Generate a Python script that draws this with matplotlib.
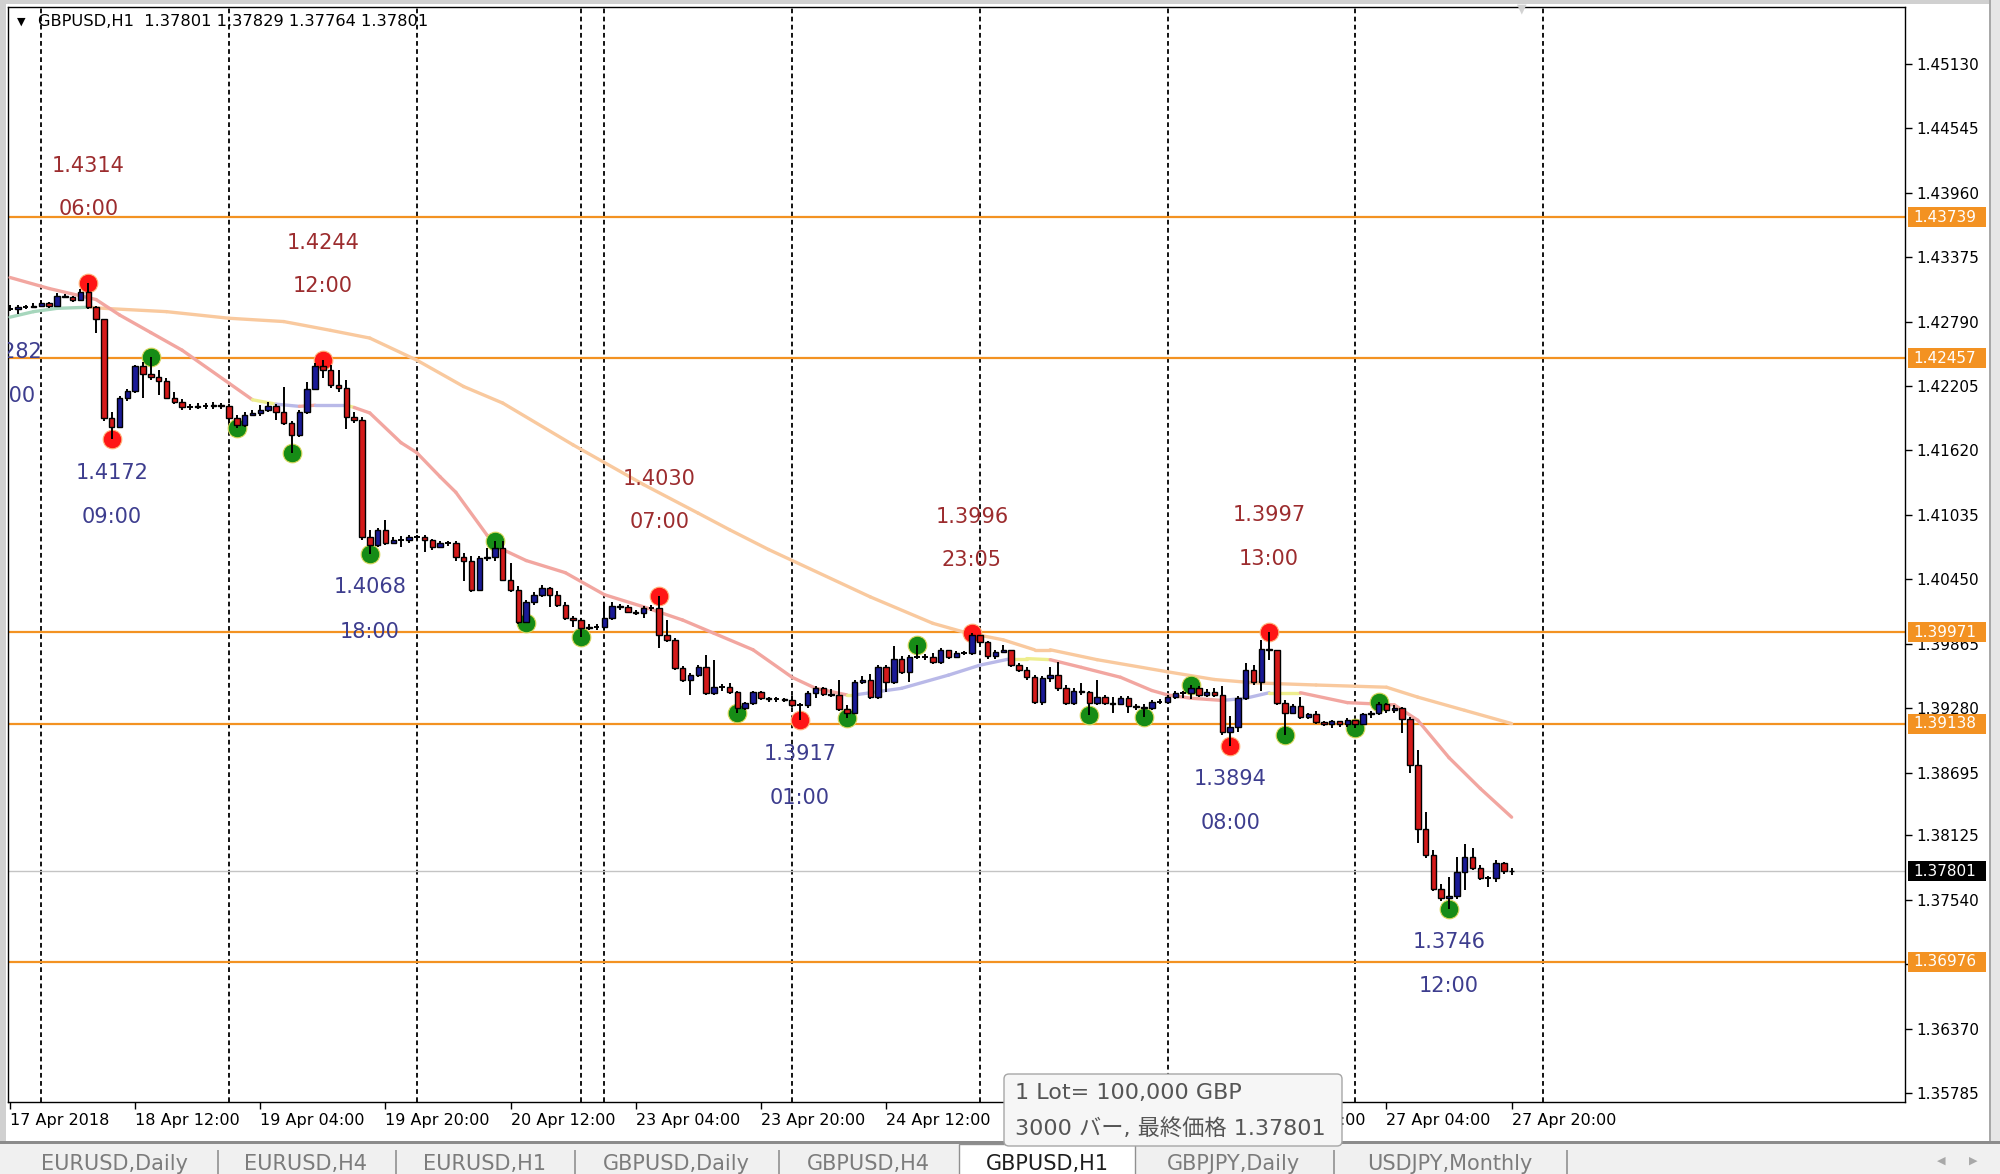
import numpy as np
import matplotlib.pyplot as plt
from matplotlib.collections import LineCollection
from matplotlib.patches import Rectangle, FancyBboxPatch
from matplotlib.transforms import offset_copy

plt.rcParams['font.family'] = ['DejaVu Sans', 'Noto Sans CJK JP']

header = "GBPUSD,H1  1.37801 1.37829 1.37764 1.37801"

# GBPUSD H1 bars, 17 Apr 2018 20:00 .. 27 Apr 2018 20:00 (x = bar number)
first_open = 1.4290
closes = [
    1.4290, 1.4292, 1.4292, 1.4293, 1.4296, 1.4293, 1.4302, 1.4301, 1.4299, 1.4306,
    1.4292, 1.4281, 1.4191, 1.4183, 1.4210, 1.4216, 1.4239, 1.4231, 1.4229, 1.4225,
    1.4210, 1.4206, 1.4201, 1.4201, 1.4202, 1.4202, 1.4203, 1.4202, 1.4191, 1.4185,
    1.4194, 1.4196, 1.4199, 1.4202, 1.4197, 1.4187, 1.4176, 1.4197, 1.4218, 1.4239,
    1.4235, 1.4221, 1.4219, 1.4192, 1.4190, 1.4083, 1.4076, 1.4090, 1.4078, 1.4081,
    1.4081, 1.4083, 1.4083, 1.4081, 1.4074, 1.4078, 1.4078, 1.4065, 1.4062, 1.4035,
    1.4064, 1.4065, 1.4073, 1.4044, 1.4035, 1.4006, 1.4024, 1.4031, 1.4037, 1.4031,
    1.4022, 1.4010, 1.4008, 1.4001, 1.4002, 1.4002, 1.4010, 1.4021, 1.4020, 1.4015,
    1.4014, 1.4019, 1.4019, 1.3994, 1.3990, 1.3964, 1.3954, 1.3958, 1.3965, 1.3942,
    1.3947, 1.3947, 1.3943, 1.3928, 1.3933, 1.3943, 1.3937, 1.3936, 1.3936, 1.3935,
    1.3931, 1.3931, 1.3942, 1.3946, 1.3941, 1.3940, 1.3927, 1.3924, 1.3952, 1.3954,
    1.3938, 1.3965, 1.3952, 1.3973, 1.3961, 1.3974, 1.3974, 1.3974, 1.3970, 1.3981,
    1.3974, 1.3978, 1.3978, 1.3994, 1.3988, 1.3975, 1.3979, 1.3981, 1.3967, 1.3963,
    1.3956, 1.3934, 1.3955, 1.3958, 1.3946, 1.3933, 1.3944, 1.3943, 1.3933, 1.3938,
    1.3933, 1.3932, 1.3937, 1.3930, 1.3929, 1.3928, 1.3934, 1.3934, 1.3938, 1.3942,
    1.3942, 1.3946, 1.3940, 1.3943, 1.3940, 1.3906, 1.3911, 1.3937, 1.3963, 1.3952,
    1.3982, 1.3981, 1.3933, 1.3924, 1.3930, 1.3920, 1.3923, 1.3915, 1.3914, 1.3916,
    1.3914, 1.3917, 1.3914, 1.3923, 1.3924, 1.3932, 1.3926, 1.3928, 1.3918, 1.3876,
    1.3818, 1.3795, 1.3764, 1.3756, 1.3757, 1.3779, 1.3793, 1.3783, 1.3774, 1.3774,
    1.3787, 1.3780, 1.37801]
highs = [
    1.4294, 1.4294, 1.4294, 1.4296, 1.4299, 1.4297, 1.4305, 1.4304, 1.4302, 1.4309,
    1.4314, 1.4293, 1.4281, 1.4197, 1.4211, 1.4218, 1.4240, 1.4242, 1.4247, 1.4235,
    1.4228, 1.4215, 1.4209, 1.4204, 1.4205, 1.4205, 1.4206, 1.4205, 1.4204, 1.4194,
    1.4197, 1.4199, 1.4203, 1.4206, 1.4204, 1.4220, 1.4189, 1.4199, 1.4224, 1.4241,
    1.4244, 1.4240, 1.4235, 1.4226, 1.4197, 1.4192, 1.4090, 1.4092, 1.4099, 1.4083,
    1.4084, 1.4085, 1.4085, 1.4085, 1.4082, 1.4080, 1.4080, 1.4080, 1.4069, 1.4066,
    1.4066, 1.4073, 1.4080, 1.4080, 1.4060, 1.4039, 1.4026, 1.4033, 1.4040, 1.4038,
    1.4034, 1.4024, 1.4012, 1.4010, 1.4004, 1.4004, 1.4024, 1.4024, 1.4023, 1.4022,
    1.4017, 1.4021, 1.4022, 1.4030, 1.4008, 1.3992, 1.3966, 1.3960, 1.3967, 1.3976,
    1.3972, 1.3950, 1.3951, 1.3944, 1.3934, 1.3944, 1.3944, 1.3938, 1.3938, 1.3937,
    1.3939, 1.3933, 1.3944, 1.3948, 1.3947, 1.3945, 1.3954, 1.3931, 1.3954, 1.3957,
    1.3959, 1.3967, 1.3967, 1.3984, 1.3975, 1.3976, 1.3985, 1.3977, 1.3978, 1.3983,
    1.3981, 1.3980, 1.3980, 1.3996, 1.3994, 1.3989, 1.3981, 1.3985, 1.3981, 1.3969,
    1.3965, 1.3958, 1.3957, 1.3965, 1.3970, 1.3949, 1.3946, 1.3951, 1.3944, 1.3954,
    1.3940, 1.3938, 1.3939, 1.3939, 1.3932, 1.3932, 1.3935, 1.3936, 1.3940, 1.3944,
    1.3944, 1.3949, 1.3948, 1.3945, 1.3946, 1.3948, 1.3921, 1.3939, 1.3969, 1.3967,
    1.3990, 1.3997, 1.3981, 1.3935, 1.3932, 1.3938, 1.3924, 1.3925, 1.3916, 1.3917,
    1.3916, 1.3919, 1.3917, 1.3924, 1.3925, 1.3934, 1.3933, 1.3931, 1.3929, 1.3920,
    1.3890, 1.3834, 1.3799, 1.3768, 1.3775, 1.3793, 1.3805, 1.3801, 1.3786, 1.3776,
    1.3790, 1.3788, 1.37829]
lows = [
    1.4289, 1.4286, 1.4290, 1.4291, 1.4294, 1.4291, 1.4292, 1.4300, 1.4297, 1.4298,
    1.4290, 1.4269, 1.4189, 1.4172, 1.4182, 1.4207, 1.4214, 1.4210, 1.4226, 1.4212,
    1.4209, 1.4204, 1.4199, 1.4199, 1.4200, 1.4200, 1.4200, 1.4200, 1.4187, 1.4182,
    1.4183, 1.4193, 1.4193, 1.4197, 1.4190, 1.4185, 1.4160, 1.4174, 1.4195, 1.4217,
    1.4228, 1.4219, 1.4215, 1.4181, 1.4187, 1.4081, 1.4068, 1.4074, 1.4076, 1.4078,
    1.4074, 1.4078, 1.4081, 1.4070, 1.4072, 1.4075, 1.4075, 1.4062, 1.4043, 1.4033,
    1.4035, 1.4062, 1.4062, 1.4043, 1.4033, 1.4004, 1.4005, 1.4022, 1.4029, 1.4020,
    1.4020, 1.4008, 1.4002, 1.3993, 1.3999, 1.3999, 1.3999, 1.4008, 1.4017, 1.4014,
    1.4013, 1.4010, 1.4016, 1.3983, 1.3988, 1.3963, 1.3952, 1.3940, 1.3956, 1.3940,
    1.3940, 1.3944, 1.3941, 1.3924, 1.3926, 1.3931, 1.3935, 1.3934, 1.3934, 1.3934,
    1.3929, 1.3917, 1.3928, 1.3937, 1.3939, 1.3938, 1.3925, 1.3919, 1.3925, 1.3950,
    1.3936, 1.3936, 1.3943, 1.3950, 1.3959, 1.3952, 1.3973, 1.3972, 1.3968, 1.3968,
    1.3973, 1.3976, 1.3976, 1.3976, 1.3985, 1.3973, 1.3973, 1.3978, 1.3965, 1.3961,
    1.3954, 1.3932, 1.3931, 1.3952, 1.3944, 1.3931, 1.3931, 1.3940, 1.3922, 1.3931,
    1.3931, 1.3924, 1.3931, 1.3924, 1.3926, 1.3920, 1.3926, 1.3932, 1.3932, 1.3936,
    1.3937, 1.3936, 1.3938, 1.3938, 1.3938, 1.3904, 1.3894, 1.3906, 1.3935, 1.3949,
    1.3944, 1.3972, 1.3931, 1.3904, 1.3923, 1.3918, 1.3918, 1.3914, 1.3912, 1.3910,
    1.3911, 1.3911, 1.3910, 1.3913, 1.3919, 1.3922, 1.3924, 1.3924, 1.3905, 1.3869,
    1.3806, 1.3792, 1.3762, 1.3753, 1.3746, 1.3755, 1.3763, 1.3781, 1.3772, 1.3766,
    1.3770, 1.3777, 1.37764]

tick_bars = [0, 16, 32, 48, 64, 80, 96, 112, 128, 144, 160, 176, 192]
tick_texts = ["17 Apr 2018", "18 Apr 12:00", "19 Apr 04:00", "19 Apr 20:00", "20 Apr 12:00",
              "23 Apr 04:00", "23 Apr 20:00", "24 Apr 12:00", "25 Apr 04:00", "25 Apr 20:00",
              "26 Apr 12:00", "27 Apr 04:00", "27 Apr 20:00"]
day_breaks = [4, 28, 52, 73, 76, 100, 124, 148, 172, 196]

price_ticks = [1.45130, 1.44545, 1.43960, 1.43375, 1.42790, 1.42205, 1.41620, 1.41035, 1.40450,
               1.39865, 1.39280, 1.38695, 1.38125, 1.37540, 1.36955, 1.36370, 1.35785]
levels = [1.43739, 1.42457, 1.39971, 1.39138, 1.36976]
last_price = 1.37801

# moving averages: vertex bars, values, colour code per segment
slow_bars = [0, 3, 6, 10, 12, 20, 28, 35, 41, 46, 52, 58, 63, 72, 81, 88, 92, 97, 110, 118, 122,
             127, 131, 133, 139, 148, 154, 159, 167, 176, 180, 186, 192]
slow_vals = [1.4283, 1.4288, 1.4291, 1.4292, 1.4291, 1.4288, 1.4282, 1.4279, 1.4271, 1.4264, 1.4244,
             1.4220, 1.4205, 1.4167, 1.4131, 1.4105, 1.4090, 1.4072, 1.4029, 1.4005, 1.3997, 1.3990,
             1.3981, 1.3981, 1.3972, 1.3961, 1.3954, 1.3951, 1.3949, 1.3947, 1.3938, 1.3926, 1.3914]
slow_cols = "GGG" + "P" * 29
fast_bars = [0, 5, 11, 14, 18, 22, 28, 31, 34, 37, 39, 43, 44, 46, 50, 52, 55, 57, 61, 63, 66, 71,
             76, 81, 86, 90, 95, 100, 103, 107, 108, 114, 120, 124, 128, 130, 133, 137, 142, 146,
             148, 151, 155, 158, 161, 165, 171, 177, 180, 184, 188, 192]
fast_vals = [1.4319, 1.4309, 1.4299, 1.4285, 1.4269, 1.4253, 1.4223, 1.4208, 1.4204, 1.4202, 1.4203,
             1.4203, 1.4201, 1.4196, 1.4169, 1.4160, 1.4138, 1.4124, 1.4085, 1.4072, 1.4062, 1.4051,
             1.4031, 1.4020, 1.4008, 1.3996, 1.3981, 1.3956, 1.3946, 1.3940, 1.3940, 1.3946, 1.3958,
             1.3967, 1.3973, 1.3973, 1.3972, 1.3965, 1.3956, 1.3944, 1.3940, 1.3937, 1.3935, 1.3937,
             1.3942, 1.3942, 1.3933, 1.3931, 1.3917, 1.3883, 1.3855, 1.3829]
fast_cols = "S" * 7 + "YLSLY" + "S" * 17 + "Y" + "L" * 4 + "YY" + "S" * 6 + "LLY" + "S" * 6

red_bars = [10, 13, 40, 83, 101, 123, 156, 161]
red_vals = [1.4314, 1.4172, 1.4244, 1.4030, 1.3917, 1.3996, 1.3894, 1.3997]
green_bars = [18, 29, 36, 46, 62, 66, 73, 93, 107, 116, 138, 145, 151, 163, 172, 175, 184]
green_vals = [1.4247, 1.4182, 1.4160, 1.4068, 1.4080, 1.4005, 1.3993, 1.3924, 1.3919, 1.3985,
              1.3922, 1.3920, 1.3949, 1.3904, 1.3910, 1.3934, 1.3746]

hi_bars = [10, 40, 83, 123, 161]
hi_text = ["1.4314", "1.4244", "1.4030", "1.3996", "1.3997"]
hi_time = ["06:00", "12:00", "07:00", "23:05", "13:00"]
lo_bars = [-0.5, 13, 46, 101, 156, 184]
lo_text = ["1.4282", "1.4172", "1.4068", "1.3917", "1.3894", "1.3746"]
lo_time = ["19:00", "09:00", "18:00", "01:00", "08:00", "12:00"]

tabs = ["EURUSD,Daily", "EURUSD,H4", "EURUSD,H1", "GBPUSD,Daily", "GBPUSD,H4",
        "GBPUSD,H1", "GBPJPY,Daily", "USDJPY,Monthly"]
active_tab = "GBPUSD,H1"

W, H = 2000, 1174
fig = plt.figure(figsize=(W / 100, H / 100), dpi=100)
fig.patch.set_facecolor("white")
ax = fig.add_axes([8 / W, 1 - 1102 / H, (1905 - 8) / W, (1102 - 7) / H])
ax.set_xlim(-0.26, 242.3)
ax.set_ylim(1.35704, 1.45646)
ax.set_facecolor("white")

# day separators, levels, last price
for b in day_breaks:
    ax.axvline(b, color="black", lw=1.3, ls=(0, (2.6, 1.9)), zorder=1)
for v in levels:
    ax.axhline(v, color="#f39222", lw=1.6, zorder=2)
ax.axhline(last_price, color="#c4c4c4", lw=1.0, zorder=1.5)

# moving averages
palette = {"S": "#f2a6a0", "P": "#f9c99e", "L": "#b9b9e8", "Y": "#eeee8e", "G": "#a6d6bc"}
for bars, vals, cols in [(slow_bars, slow_vals, slow_cols), (fast_bars, fast_vals, fast_cols)]:
    pts = np.column_stack([bars, vals])
    segs = np.stack([pts[:-1], pts[1:]], axis=1)
    lc = LineCollection(segs, colors=[palette[k] for k in cols], linewidths=2.4,
                        capstyle="round", joinstyle="round", zorder=3)
    ax.add_collection(lc)

# pivot dots
ax.scatter(red_bars, red_vals, s=180, c="#ff1616", edgecolors="#ffb27a", linewidths=0.8, zorder=4)
ax.scatter(green_bars, green_vals, s=180, c="#168c16", edgecolors="#d6d65a", linewidths=0.8, zorder=4)

# candles
x = np.arange(len(closes))
c = np.array(closes)
o = np.array([first_open] + closes[:-1])
h = np.maximum(np.array(highs), np.maximum(o, c))
l = np.minimum(np.array(lows), np.minimum(o, c))
ax.vlines(x, l, h, color="black", lw=1.4, zorder=5)
up, down, flat = c > o, c < o, c == o
bot = np.minimum(o, c)
hgt = np.abs(c - o)
ax.bar(x[up], hgt[up], bottom=bot[up], width=0.7, color="#1a1a96", edgecolor="black", lw=1.0, zorder=6)
ax.bar(x[down], hgt[down], bottom=bot[down], width=0.7, color="#d41a1a", edgecolor="black", lw=1.0, zorder=6)
ax.hlines(c[flat], x[flat] - 0.36, x[flat] + 0.36, color="black", lw=1.4, zorder=6)

# pivot labels
hi_col, lo_col = "#9c2c2e", "#3d3d8e"
for b, t, tm in zip(hi_bars, hi_text, hi_time):
    ax.text(b, float(t), t, transform=offset_copy(ax.transData, fig, y=84, units="points"),
            ha="center", va="center", fontsize=15, color=hi_col, clip_on=True, zorder=7)
    ax.text(b, float(t), tm, transform=offset_copy(ax.transData, fig, y=53, units="points"),
            ha="center", va="center", fontsize=15, color=hi_col, clip_on=True, zorder=7)
for b, t, tm in zip(lo_bars, lo_text, lo_time):
    ax.text(b, float(t), t, transform=offset_copy(ax.transData, fig, y=-24, units="points"),
            ha="center", va="center", fontsize=15, color=lo_col, clip_on=True, zorder=7)
    ax.text(b, float(t), tm, transform=offset_copy(ax.transData, fig, y=-56, units="points"),
            ha="center", va="center", fontsize=15, color=lo_col, clip_on=True, zorder=7)

# axes
for s in ax.spines.values():
    s.set_linewidth(1.0)
    s.set_color("black")
ax.yaxis.tick_right()
ax.set_yticks(price_ticks)
ax.set_yticklabels([f"{v:.5f}" for v in price_ticks])
ax.tick_params(axis="y", direction="out", length=5, width=1, labelsize=11, pad=3)
ax.set_xticks(tick_bars)
ax.set_xticklabels(tick_texts)
ax.tick_params(axis="x", direction="out", length=5, width=1, labelsize=11.5, pad=3)
for lbl in ax.get_xticklabels():
    lbl.set_horizontalalignment("left")

tr = ax.get_yaxis_transform()
for v, fc in [(lv, "#f39222") for lv in levels] + [(last_price, "black")]:
    ax.add_patch(Rectangle((1.0016, v - 0.00092), 0.0412, 0.00184, transform=tr,
                           fc=fc, ec="none", clip_on=False, zorder=10))
    ax.text(1.0045, v, f"{v:.5f}", transform=tr, color="white", fontsize=11,
            ha="left", va="center", clip_on=False, zorder=11)

# header
fig.text(17 / W, 1 - 22 / H, "\u25bc", fontsize=8, va="center", ha="left")
fig.text(38 / W, 1 - 22 / H, header, fontsize=11.7, va="center", ha="left")
fig.text(1522 / W, 1 - 9 / H, "\u25bc", fontsize=9, color="#d2d2d2", va="center", ha="center")


def fig_rect(x0, y0, x1, y1, **kw):
    r = Rectangle((x0 / W, 1 - y1 / H), (x1 - x0) / W, (y1 - y0) / H,
                  transform=fig.transFigure, **kw)
    fig.add_artist(r)


# window frame
fig_rect(0, 0, 6, 1143, fc="#d0d0d0", ec="none")
fig_rect(0, 0, W, 4, fc="#d0d0d0", ec="none")
fig_rect(1990, 0, W, 1143, fc="#e6e6e6", ec="none")
fig_rect(1989, 0, 1991, 1143, fc="#a8a8a8", ec="none")

# tab bar
fig_rect(0, 1143, W, H, fc="#f0f0f0", ec="none")
fig_rect(0, 1141, W, 1144, fc="#8c8c8c", ec="none")
fig_rect(959, 1144, 1135, H + 2, fc="white", ec="#909090", lw=1)
tab_edges = [0, 217, 395, 574, 778, 959, 1135, 1333, 1566]
for xe in tab_edges[1:]:
    if xe not in (959, 1135):
        fig_rect(xe, 1150, xe + 1.5, H, fc="#a0a0a0", ec="none")
for i, t in enumerate(tabs):
    cx = (tab_edges[i] + tab_edges[i + 1]) / 2 + (6 if i == 0 else 0)
    fig.text(cx / W, 1 - 1164 / H, t, fontsize=15, ha="center", va="center",
             color="#1e1e1e" if t == active_tab else "#7c7c7c", zorder=3)
fig.text(1941 / W, 1 - 1161 / H, "\u25c0", fontsize=8, color="#a8a8a8", ha="center", va="center")
fig.text(1973 / W, 1 - 1161 / H, "\u25b6", fontsize=8, color="#a8a8a8", ha="center", va="center")

# tooltip
tip = FancyBboxPatch((1004 / 100, (H - 1146) / 100), 3.38, 0.72,
                     boxstyle="round,pad=0,rounding_size=0.05", transform=fig.dpi_scale_trans,
                     fc="#f6f6f6", ec="#a6a6a6", lw=1, zorder=4)
fig.add_artist(tip)
fig.text(1015 / W, 1 - 1093 / H, "1 Lot= 100,000 GBP", fontsize=16, color="#555555",
         va="center", ha="left", zorder=5)
fig.text(1015 / W, 1 - 1129 / H, "3000 バー, 最終価格 1.37801", fontsize=16, color="#555555",
         family=["DejaVu Sans", "Noto Sans CJK JP"], va="center", ha="left", zorder=5)

fig.savefig("out.png", dpi=100)
